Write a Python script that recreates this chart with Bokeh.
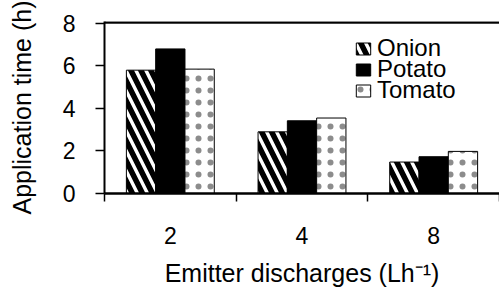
from bokeh.plotting import figure
from bokeh.models import ColumnDataSource, FixedTicker, Legend, LegendItem, Range1d
from bokeh.transform import dodge
from bokeh.embed import file_html
from bokeh.resources import INLINE

categories = ["2", "4", "8"]
onion = [5.8, 2.9, 1.48]
potato = [6.8, 3.42, 1.73]
tomato = [5.85, 3.55, 1.98]
y_ticks = [0, 2, 4, 6, 8]

x_pos = [i + 0.5 for i in range(len(categories))]
src = ColumnDataSource(dict(x=x_pos, onion=onion, potato=potato, tomato=tomato))

FONT = "Liberation Sans"
BW = 0.2225

p = figure(width=499, height=289, x_range=Range1d(0, len(categories)), y_range=Range1d(0, 8.09),
           output_backend="svg", toolbar_location=None,
           min_border_left=104, min_border_right=0, min_border_top=21, min_border_bottom=94)
p.outline_line_color = None
p.grid.visible = False
p.background_fill_color = "white"

# top border of the frame: a thin filled band from the top tick to the range end
p.quad(left=[p.x_range.start], right=[p.x_range.end], bottom=[y_ticks[-1]], top=[p.y_range.end],
       fill_color="black", line_color="black", line_width=0.5)

r1 = p.vbar(x=dodge("x", -BW, range=p.x_range), top="onion", width=BW, source=src,
            fill_color="white", line_color="black", line_width=1,
            hatch_pattern="\\", hatch_color="black", hatch_scale=20, hatch_weight=5.5)
r2 = p.vbar(x=dodge("x", 0, range=p.x_range), top="potato", width=BW, source=src,
            fill_color="black", line_color="black", line_width=1)
r3 = p.vbar(x=dodge("x", BW, range=p.x_range), top="tomato", width=BW, source=src,
            fill_color="white", line_color="black", line_width=1,
            hatch_pattern=".", hatch_color="black", hatch_alpha=0.45,
            hatch_scale=12, hatch_weight=0.5)

# x axis
xa = p.xaxis[0]
xa.ticker = FixedTicker(ticks=x_pos, minor_ticks=list(range(len(categories) + 1)))
xa.major_label_overrides = {x: c for x, c in zip(x_pos, categories)}
xa.major_tick_line_color = None
xa.major_tick_out = 0
xa.major_tick_in = 0
xa.minor_tick_line_color = "black"
xa.minor_tick_line_width = 1.5
xa.minor_tick_out = 8
xa.minor_tick_in = 0
xa.axis_line_width = 2.5
xa.axis_line_color = "black"
xa.major_label_text_font = FONT
xa.major_label_text_font_size = "23px"
xa.major_label_text_color = "black"
xa.major_label_standoff = 25
xa.axis_label = "Emitter discharges (Lh\u207b\u00b9)"
xa.axis_label_text_font = FONT
xa.axis_label_text_font_size = "25px"
xa.axis_label_text_font_style = "normal"
xa.axis_label_text_color = "black"
xa.axis_label_standoff = 12

# y axis
ya = p.yaxis[0]
ya.ticker = FixedTicker(ticks=y_ticks)
ya.minor_tick_line_color = None
ya.major_tick_out = 9
ya.major_tick_in = 0
ya.major_tick_line_width = 1.5
ya.major_tick_line_color = "black"
ya.axis_line_width = 2
ya.axis_line_color = "black"
ya.major_label_text_font = FONT
ya.major_label_text_font_size = "23px"
ya.major_label_text_color = "black"
ya.major_label_standoff = 20
ya.axis_label = "Application time (h)"
ya.axis_label_text_font = FONT
ya.axis_label_text_font_size = "25px"
ya.axis_label_text_font_style = "normal"
ya.axis_label_text_color = "black"
ya.axis_label_standoff = 24

names = ["Onion", "Potato", "Tomato"]
rends = [r1, r2, r3]
leg_y = [131, 110, 89]
for name, r, ly in zip(names, rends, leg_y):
    lg = Legend(items=[LegendItem(label=name, renderers=[r])],
                location=(250, ly), padding=0, spacing=0, margin=0,
                border_line_color=None, background_fill_alpha=0,
                label_text_font=FONT, label_text_font_size="24px", label_text_color="black",
                glyph_width=18, glyph_height=15, label_height=21, label_standoff=5)
    p.add_layout(lg)

open("out.html", "w").write(file_html(p, INLINE))
